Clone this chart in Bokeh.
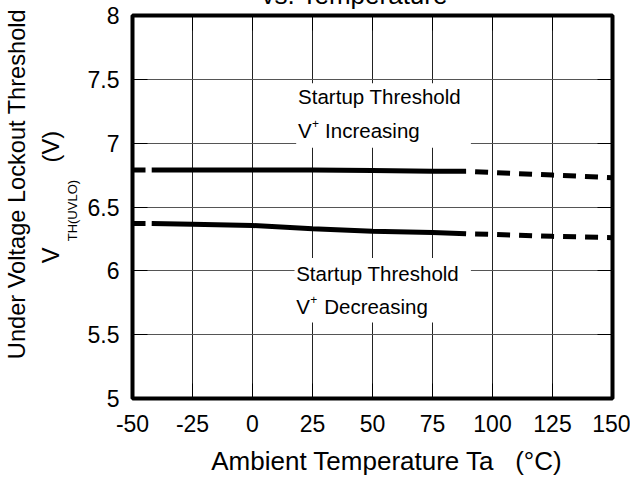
from bokeh.plotting import figure
from bokeh.models import Label, BoxAnnotation, LinearAxis, FixedTicker, Range1d
from bokeh.embed import file_html
from bokeh.resources import INLINE

# ---- data ----
x_ticks = [-50, -25, 0, 25, 50, 75, 100, 125, 150]
x_tick_labels = ["-50", "-25", "0", "25", "50", "75", "100", "125", "150"]
y_ticks = [5, 5.5, 6, 6.5, 7, 7.5, 8]
y_tick_labels = ["5", "5.5", "6", "6.5", "7", "7.5", "8"]

# measured (solid) range
temp_solid = [-42, -25, 0, 25, 50, 75, 89]
inc_solid = [6.79, 6.79, 6.79, 6.79, 6.785, 6.78, 6.78]
dec_solid = [6.37, 6.365, 6.355, 6.33, 6.31, 6.30, 6.29]
# extrapolated (dashed) ranges
temp_dash_lo = [-50, -42]
inc_dash_lo = [6.79, 6.79]
dec_dash_lo = [6.37, 6.37]
temp_dash_hi = [89, 100, 125, 150]
inc_dash_hi = [6.78, 6.77, 6.75, 6.73]
dec_dash_hi = [6.29, 6.285, 6.27, 6.26]

NB = "\u00a0"
title_text = "vs. Temperature"
ylabel_line1 = "Under Voltage Lockout Threshold"
ylabel_v = "V"
ylabel_sub = "TH(UVLO)"
ylabel_unit = "(V)"
xlabel = "Ambient Temperature Ta" + NB * 3 + "(\u00b0C)"
ann_top = "Startup Threshold"
ann_inc = "Increasing"
ann_dec = "Decreasing"

FONT = "Liberation Sans"

p = figure(width=630, height=523, output_backend="svg", toolbar_location=None,
           x_range=Range1d(-50, 150), y_range=Range1d(5, 8),
           min_border_left=131, min_border_right=18, min_border_top=60,
           min_border_bottom=79)
p.margin = (-45, 0, -8, 0)
p.background_fill_color = "white"
p.border_fill_color = "white"
p.outline_line_color = "black"
p.outline_line_width = 4

# title (mostly above the visible page, as in the reference)
p.title.text = title_text
p.title.text_font = FONT
p.title.text_font_size = "26px"
p.title.text_font_style = "normal"
p.title.text_color = "black"
p.title.align = "left"
p.title.offset = 129
p.title.standoff = 12

# grids
p.xgrid.ticker = FixedTicker(ticks=x_ticks)
p.ygrid.ticker = FixedTicker(ticks=y_ticks)
p.xgrid.grid_line_color = "#222222"
p.ygrid.grid_line_color = "#555555"

# axes
for ax in (p.xaxis[0], p.yaxis[0]):
    ax.axis_line_color = None
    ax.major_tick_in = 15
    ax.major_tick_out = 0
    ax.major_tick_line_color = "black"
    ax.minor_tick_line_color = None
    ax.major_label_text_font = FONT
    ax.major_label_text_font_size = "23px"
    ax.major_label_text_color = "black"

p.xaxis.ticker = FixedTicker(ticks=x_ticks)
p.yaxis.ticker = FixedTicker(ticks=y_ticks)
p.xaxis.major_label_overrides = {t: l for t, l in zip(x_ticks, x_tick_labels)}
p.yaxis.major_label_overrides = {t: l for t, l in zip(y_ticks, y_tick_labels)}
p.xaxis.major_label_standoff = 16
p.yaxis.major_label_standoff = 13

# x title (leading spaces shift it to the right as in the reference)
p.xaxis.axis_label = NB * 4 + xlabel
p.xaxis.axis_label_text_font = FONT
p.xaxis.axis_label_text_font_size = "26px"
p.xaxis.axis_label_text_font_style = "normal"
p.xaxis.axis_label_text_color = "black"
p.xaxis.axis_label_standoff = 11

# inner ticks on top and right (no labels)
top_ax = LinearAxis(ticker=FixedTicker(ticks=x_ticks))
right_ax = LinearAxis(ticker=FixedTicker(ticks=y_ticks))
top_ax.major_label_overrides = {t: "" for t in x_ticks}
right_ax.major_label_overrides = {t: "" for t in y_ticks}
for ax in (top_ax, right_ax):
    ax.axis_line_color = None
    ax.major_tick_in = 15
    ax.major_tick_out = 0
    ax.major_tick_line_color = "black"
    ax.minor_tick_line_color = None
    ax.major_label_text_font_size = "0px"
    ax.major_label_standoff = 0
p.add_layout(top_ax, "above")
p.add_layout(right_ax, "right")

# y title: stacked, rotated text columns (each an axis carrying only a label)
def text_axis(label, size, standoff):
    ax = LinearAxis(ticker=FixedTicker(ticks=[]), axis_label=label,
                    axis_label_standoff=standoff,
                    axis_label_text_font=FONT, axis_label_text_font_size=size,
                    axis_label_text_font_style="normal",
                    axis_label_text_color="black",
                    axis_line_color=None, major_tick_line_color=None,
                    minor_tick_line_color=None, major_tick_out=0, major_tick_in=0,
                    minor_tick_out=0, minor_tick_in=0,
                    major_label_standoff=0)
    p.add_layout(ax, "left")
    return ax

text_axis(ylabel_sub + NB * 2, "13px", 5)                        # subscript
text_axis(NB * 3 + ylabel_v + NB * 13 + ylabel_unit, "23.6px", -2)  # V ... (V)
text_axis(NB * 7 + ylabel_line1, "23.6px", 5)                    # first line

# white boxes behind annotations
p.add_layout(BoxAnnotation(left=18.2, right=91, top=7.47, bottom=6.965,
                           fill_color="white", fill_alpha=1, line_color=None))
p.add_layout(BoxAnnotation(left=17.5, right=91, top=6.10, bottom=5.595,
                           fill_color="white", fill_alpha=1, line_color=None))

# curves
LW = 5
p.line(temp_solid, inc_solid, line_color="black", line_width=LW, line_cap="butt")
p.line(temp_solid, dec_solid, line_color="black", line_width=LW, line_cap="butt")
for yy in (inc_dash_lo, dec_dash_lo):
    p.line(temp_dash_lo, yy, line_color="black", line_width=LW, line_dash="13 9",
           line_cap="butt")
for yy in (inc_dash_hi, dec_dash_hi):
    p.line(temp_dash_hi, yy, line_color="black", line_width=LW, line_dash="13 9",
           line_dash_offset=13, line_cap="butt")

def lab(text, x, y, size, **kw):
    l = Label(x=x, y=y, text=text, text_font=FONT, text_font_size=size,
              text_color="black", **kw)
    p.add_layout(l)
    return l

# annotations
AF = "20.5px"
lab(ann_top, 19.0, 7.363, AF, text_baseline="alphabetic")
lab("V", 19.0, 7.098, AF, text_baseline="alphabetic")
lab("+", 19.0, 7.098, "12px", x_offset=14, y_offset=7, text_baseline="alphabetic")
lab(ann_inc, 19.0, 7.098, AF, x_offset=27, text_baseline="alphabetic")

lab(ann_top, 18.2, 5.980, AF, text_baseline="alphabetic")
lab("V", 18.2, 5.723, AF, text_baseline="alphabetic")
lab("+", 18.2, 5.723, "12px", x_offset=14, y_offset=7, text_baseline="alphabetic")
lab(ann_dec, 18.2, 5.723, AF, x_offset=28, text_baseline="alphabetic")

open("out.html", "w").write(file_html(p, INLINE))
